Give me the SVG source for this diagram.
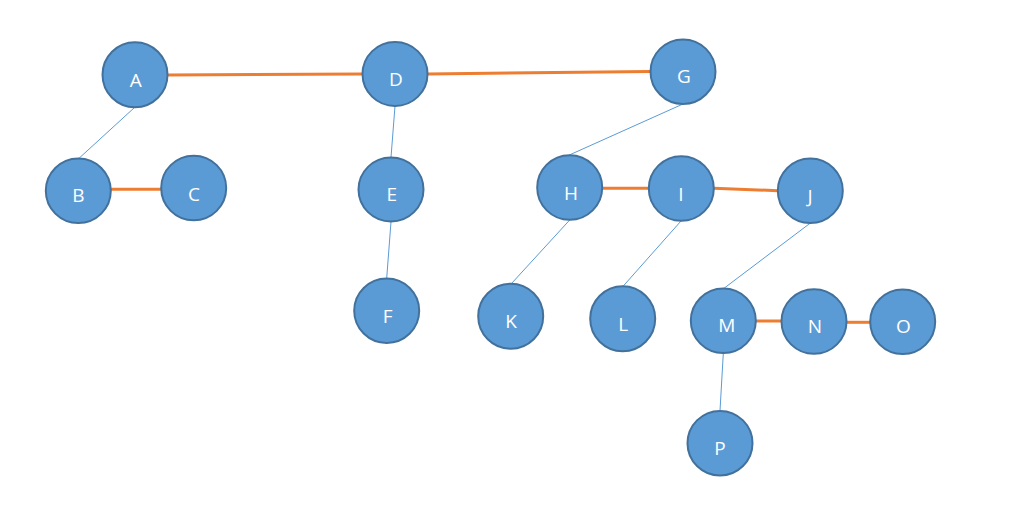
<svg xmlns="http://www.w3.org/2000/svg" width="1030" height="510" viewBox="0 0 1030 510">
<style>
.n{fill:#5B9BD5;stroke:#41719C;stroke-width:2}
.t{fill:#fff;font-family:"Open Sans","Liberation Sans",sans-serif;font-size:19px;text-anchor:middle}
.o{stroke:#ED7D31;stroke-width:3;fill:none}
.b{stroke:#5B9BD5;stroke-width:1;fill:none}
</style>
<rect width="1030" height="510" fill="#fff"/>
<g id="connectors">
<line class="o" x1="168" y1="75" x2="362" y2="74"/>
<line class="o" x1="428" y1="74" x2="650" y2="71.5"/>
<line class="o" x1="111" y1="189.3" x2="161" y2="189.3"/>
<line class="o" x1="602" y1="188.3" x2="649" y2="188.3"/>
<line class="o" x1="714" y1="188.3" x2="778" y2="190.7"/>
<line class="o" x1="756" y1="321" x2="781" y2="321"/>
<line class="o" x1="847" y1="322.3" x2="870" y2="322.3"/>
<line class="b" x1="134.3" y1="107.7" x2="79" y2="158.3"/>
<line class="b" x1="395" y1="106" x2="391" y2="157.3"/>
<line class="b" x1="391" y1="221.7" x2="386.7" y2="278.3"/>
<line class="b" x1="682.3" y1="104.3" x2="569.3" y2="155"/>
<line class="b" x1="569.7" y1="220" x2="511.7" y2="283.3"/>
<line class="b" x1="681" y1="221" x2="623.3" y2="286"/>
<line class="b" x1="810" y1="223.3" x2="724" y2="288.3"/>
<line class="b" x1="723.3" y1="353.3" x2="720" y2="410.7"/>
</g>
<g id="node-A"><ellipse class="n" cx="135" cy="74.7" rx="32.5" ry="32.5"/><text class="t" x="135.7" y="86.5">A</text></g>
<g id="node-B"><ellipse class="n" cx="78.3" cy="190.8" rx="32.5" ry="32.3"/><text class="t" x="78.3" y="202.3">B</text></g>
<g id="node-C"><ellipse class="n" cx="193.7" cy="188" rx="32.5" ry="32.3"/><text class="t" x="194" y="200.5">C</text></g>
<g id="node-D"><ellipse class="n" cx="395" cy="74" rx="32.5" ry="32"/><text class="t" x="396" y="86">D</text></g>
<g id="node-E"><ellipse class="n" cx="391" cy="189.5" rx="32.5" ry="32"/><text class="t" x="391.7" y="200.8">E</text></g>
<g id="node-F"><ellipse class="n" cx="386.7" cy="310.8" rx="32.5" ry="32.2"/><text class="t" x="387.7" y="322.5">F</text></g>
<g id="node-G"><ellipse class="n" cx="683" cy="71.7" rx="32.5" ry="32.3"/><text class="t" x="684" y="83.3">G</text></g>
<g id="node-H"><ellipse class="n" cx="569.7" cy="187.5" rx="32.5" ry="32.3"/><text class="t" x="571" y="200">H</text></g>
<g id="node-I"><ellipse class="n" cx="681.3" cy="188.5" rx="32.5" ry="32.3"/><text class="t" x="681" y="200.5">I</text></g>
<g id="node-J"><ellipse class="n" cx="810.3" cy="190.8" rx="32.5" ry="32.3"/><text class="t" x="810" y="202.5">J</text></g>
<g id="node-K"><ellipse class="n" cx="510.7" cy="316.2" rx="32.5" ry="32.5"/><text class="t" x="511" y="328.3">K</text></g>
<g id="node-L"><ellipse class="n" cx="622.7" cy="318.8" rx="32.5" ry="32.5"/><text class="t" x="623.3" y="330.5">L</text></g>
<g id="node-M"><ellipse class="n" cx="723.3" cy="320.8" rx="32.5" ry="32.3"/><text class="t" x="726.7" y="332.3">M</text></g>
<g id="node-N"><ellipse class="n" cx="814" cy="321.5" rx="32.5" ry="32.3"/><text class="t" x="815" y="333">N</text></g>
<g id="node-O"><ellipse class="n" cx="902.7" cy="321.8" rx="32.5" ry="32.3"/><text class="t" x="903.3" y="333.3">O</text></g>
<g id="node-P"><ellipse class="n" cx="720" cy="443.2" rx="32.5" ry="32.3"/><text class="t" x="720" y="455">P</text></g>
</svg>
